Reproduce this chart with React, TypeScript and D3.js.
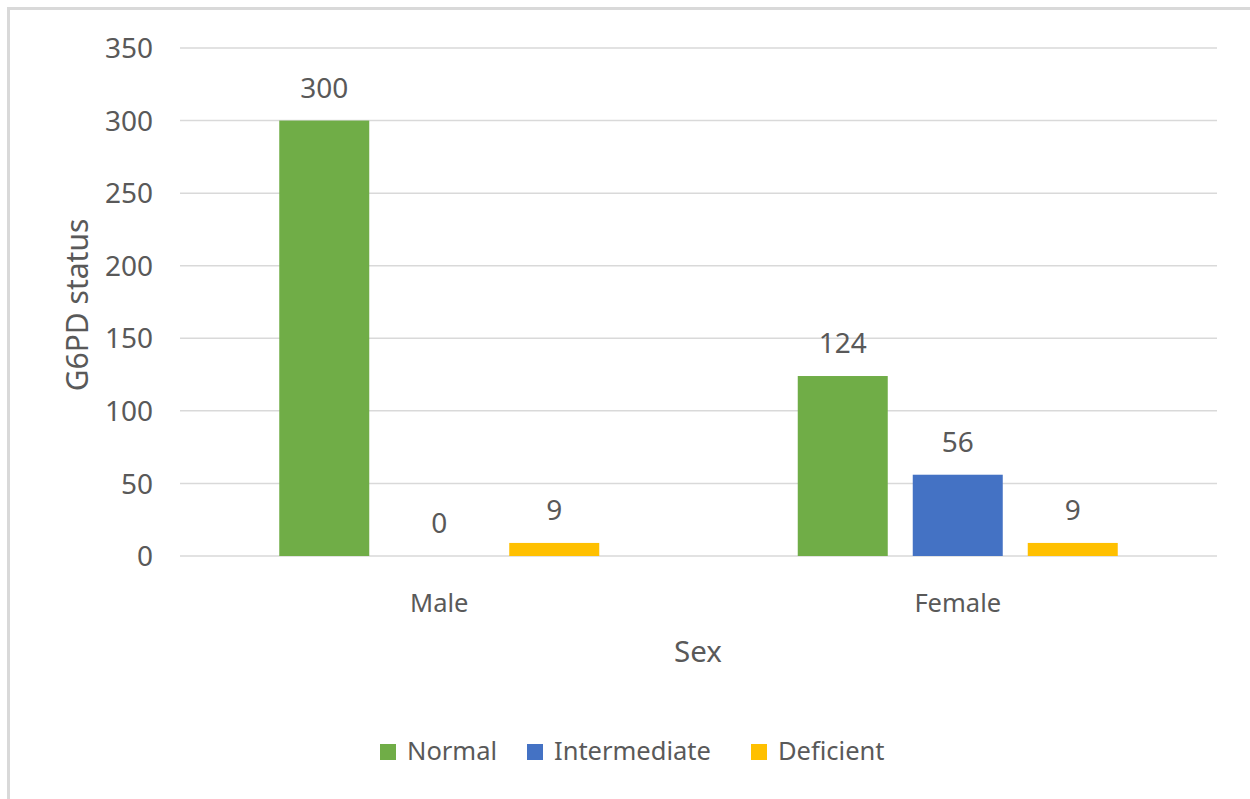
import React from "react";
import * as d3 from "d3";

const categories = ["Male", "Female"];
const seriesNames = ["Normal", "Intermediate", "Deficient"];
const normalValues = [300, 124];
const intermediateValues = [0, 56];
const deficientValues = [9, 9];
const yTicks = [0, 50, 100, 150, 200, 250, 300, 350];
const colors = ["#70AD47", "#4472C4", "#FFC000"];

const W = 1250;
const H = 799;
const FONT = "'Noto Sans', 'Open Sans', sans-serif";
const TEXT = "#595959";

export default function App() {
  const series = [normalValues, intermediateValues, deficientValues];
  const x0 = d3.scaleBand<string>().domain(categories).range([180, 1217]).paddingInner(0).paddingOuter(0);
  const y = d3.scaleLinear().domain([0, 350]).range([556, 48]);
  const bw = 90;
  const step = 115;

  return (
    <div style={{ position: "fixed", left: 0, top: 0 }}>
      <svg width={W} height={H} style={{ display: "block", background: "#fff" }}>
        <rect x={0} y={0} width={W} height={H} fill="#fff" />
        <rect x={8.5} y={8.5} width={W + 20} height={H + 20} fill="none" stroke="#d9d9d9" strokeWidth={3} />
        {yTicks.map((t) => (
          <g key={t}>
            <line x1={180} x2={1217} y1={y(t)} y2={y(t)} stroke="#d9d9d9" strokeWidth={1.5} />
            <text x={153} y={y(t)} dy="0.36em" textAnchor="end" fontFamily={FONT} fontSize={28} fill={TEXT}>
              {t}
            </text>
          </g>
        ))}
        {categories.map((c, ci) => {
          const cx = (x0(c) as number) + x0.bandwidth() / 2;
          return (
            <g key={c}>
              {series.map((vals, si) => {
                const bx = cx + (si - 1) * step - bw / 2;
                const v = vals[ci];
                return (
                  <g key={si}>
                    {v > 0 && (
                      <rect x={bx} y={y(v)} width={bw} height={y(0) - y(v)} fill={colors[si]} />
                    )}
                    <text
                      x={bx + bw / 2}
                      y={y(v) - 23}
                      textAnchor="middle"
                      fontFamily={FONT}
                      fontSize={28}
                      fill={TEXT}
                    >
                      {v}
                    </text>
                  </g>
                );
              })}
              <text x={cx} y={612} textAnchor="middle" fontFamily={FONT} fontSize={25.5} fill={TEXT}>
                {c}
              </text>
            </g>
          );
        })}
        <text x={698} y={662} textAnchor="middle" fontFamily={FONT} fontSize={29.5} fill={TEXT}>
          Sex
        </text>
        <text
          transform={`translate(88,305) rotate(-90)`}
          textAnchor="middle"
          fontFamily={FONT}
          fontSize={30}
          fill={TEXT}
        >
          G6PD status
        </text>
        {seriesNames.map((s, i) => {
          const lx = [380, 527, 751][i];
          return (
            <g key={s}>
              <rect x={lx} y={744} width={16} height={16} fill={colors[i]} />
              <text x={lx + 27} y={760} fontFamily={FONT} fontSize={25.5} fill={TEXT}>
                {s}
              </text>
            </g>
          );
        })}
      </svg>
    </div>
  );
}
